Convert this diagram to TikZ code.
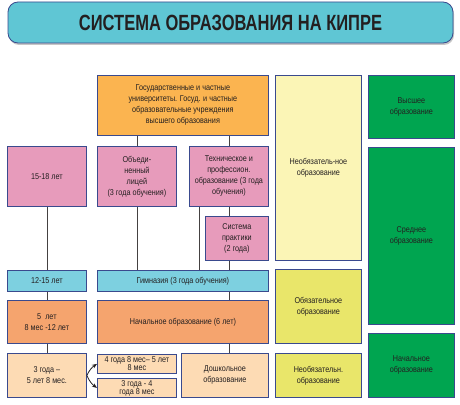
\documentclass[tikz,border=0pt]{standalone}
\usepackage{fontspec}
\setmainfont{Liberation Sans}
\newfontfamily\narrowfont[FakeStretch=0.85]{Liberation Sans}
\newfontfamily\titlefont[FakeStretch=0.75]{Liberation Sans}
\usetikzlibrary{arrows.meta,shadows,positioning}
\definecolor{frame}{HTML}{3A4A8E}
\definecolor{ink}{HTML}{231F20}
\definecolor{titlecyan}{HTML}{5FC6D4}
\definecolor{uniorange}{HTML}{FBB450}
\definecolor{secpink}{HTML}{E79BBB}
\definecolor{gymblue}{HTML}{7DD0E0}
\definecolor{primorange}{HTML}{F5A46E}
\definecolor{prepeach}{HTML}{FDDBB4}
\definecolor{optyellow}{HTML}{FBF5B6}
\definecolor{obyellow}{HTML}{E9E66A}
\definecolor{levgreen}{HTML}{00A550}

\begin{document}
\begin{tikzpicture}[x=1pt,y=-1pt,
every node/.style={
        font=\narrowfont\fontsize{8.5}{11}\selectfont, text=ink
    },
box/.style = {draw=frame, line width=0.8pt, fill=#1,
              align=center, anchor=north west, inner sep=1pt},
link/.style = {draw=ink!85, line width=0.8pt},
arrow/.style = {draw=ink, line width=0.8pt, -{Stealth[length=5pt,width=4pt]}},
title box/.style = {draw=frame, line width=0.8pt, fill=titlecyan,
                    rounded corners=10pt, minimum width=445pt, minimum height=41pt,
                    drop shadow={shadow xshift=1pt, shadow yshift=-2pt, opacity=0.45}}
    ]
\useasboundingbox (0,0) rectangle (460,404);

\node (title) [title box] at (230.5,22.5)
        {\titlefont\bfseries\fontsize{22}{24}\selectfont СИСТЕМА ОБРАЗОВАНИЯ НА КИПРЕ};

% left part: schools and ages
\node (uni)    [box=uniorange, minimum width=171pt, minimum height=60pt] at (97,75)
        {Государственные и частные\\университеты. Госуд. и частные\\образовательные учреждения\\высшего образования};
\node (age15)  [box=secpink, minimum width=79pt, minimum height=60pt] at (7,146) {15-18 лет};
\node (lyc)    [box=secpink, minimum width=79pt, minimum height=60pt] at (97,146)
        {Объеди-\\ненный\\лицей\\(3 года обучения)};
\node (tech)   [box=secpink, minimum width=79pt, minimum height=60pt] at (189,146)
        {Техническое и\\профессион.\\образование (3 года\\обучения)};
\node (prac)   [box=secpink, minimum width=63pt, minimum height=44pt] at (205,216)
        {Система\\практики\\(2 года)};
\node (age12)  [box=gymblue, minimum width=79pt, minimum height=21pt] at (7,270) {12-15 лет};
\node (gym)    [box=gymblue, minimum width=171pt, minimum height=21pt] at (97,270)
        {Гимназия (3 года обучения)};
\node (age5)   [box=primorange, minimum width=79pt, minimum height=43pt] at (7,300)
        {5~~лет\\8 мес -12 лет};
\node (prim)   [box=primorange, minimum width=171pt, minimum height=43pt] at (97,300)
        {Начальное образование (6 лет)};
\node (age3)   [box=prepeach, minimum width=79pt, minimum height=44pt] at (7,353)
        {3 года –\\5 лет 8 мес.};
\node (pre4)   [box=prepeach, minimum width=79pt, minimum height=19pt,
                font=\narrowfont\fontsize{8.5}{8}\selectfont] at (97,354)
        {4 года 8 мес– 5 лет\\8 мес};
\node (pre3)   [box=prepeach, minimum width=79pt, minimum height=19pt,
                font=\narrowfont\fontsize{8.5}{8}\selectfont] at (97,378)
        {3 года - 4\\года 8 мес};
\node (presch) [box=prepeach, minimum width=87pt, minimum height=44pt] at (181,353)
        {Дошкольное\\образование};

% middle column
\node (opt1)   [box=optyellow, minimum width=86pt, minimum height=185pt] at (275,75)
        {Необязатель-ное\\образование};
\node (oblig)  [box=obyellow, minimum width=86pt, minimum height=74pt] at (275,269)
        {Обязательное\\образование};
\node (opt2)   [box=obyellow, minimum width=86pt, minimum height=44pt] at (275,353)
        {Необязательн.\\образование};

% right column: levels
\node (higher) [box=levgreen, minimum width=86pt, minimum height=63pt] at (368,75)
        {Высшее\\образование};
\node (second) [box=levgreen, minimum width=86pt, minimum height=177pt] at (368,147)
        {Среднее\\образование};
\node (primlev)[box=levgreen, minimum width=86pt, minimum height=64pt] at (368,333)
        {Начальное\\образование};

\coordinate (techL) at ([xshift=-29.5pt]tech.south);
\path[link]
    (lyc.north)      -- (lyc.north |- uni.south)
    (tech.north)     -- (tech.north |- uni.south)
    (age15.south)    -- (age12.north)
    (lyc.south)      -- (lyc.south |- gym.north)
    (techL)          -- (techL |- gym.north)
    (tech.south)     -- (tech.south |- prac.north)
    (prac.south -| tech) -- (gym.north -| tech)
    (age12.south)    -- (age5.north)
    (gym.south -| tech)  -- (prim.north -| tech)
    (age5.south)     -- (age3.north)
    (prim.south -| tech) -- (presch.north -| tech);
\draw[arrow] (age3.east) to[bend left=15] (pre4.west);
\draw[arrow] (age3.east) to[bend right=15] (pre3.west);
\end{tikzpicture}
\end{document}
